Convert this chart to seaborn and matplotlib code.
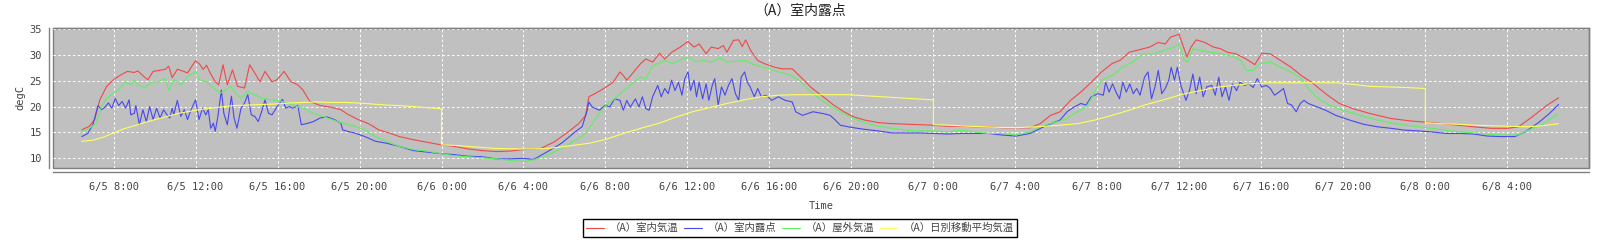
import matplotlib
matplotlib.use("Agg")
import matplotlib.pyplot as plt
import matplotlib.dates as mdates
import matplotlib.ticker as mticker
import pandas as pd
import seaborn as sns

# ---------------- data (hours after 6/5 0:00, degC) ----------------
red_h = [6.45, 6.82, 7.08, 7.33, 7.66, 8.0, 8.34, 8.67, 9.01, 9.18, 9.51, 9.68, 9.93, 10.35, 10.52,
         10.69, 10.86, 11.11, 11.36, 11.61, 12.0, 12.2, 12.37, 12.54, 12.71, 12.96, 13.13, 13.34, 13.55,
         13.8, 14.05, 14.39, 14.64, 14.89, 15.14, 15.39, 15.73, 15.98, 16.32, 16.66, 16.99, 17.24, 17.58,
         18.08, 18.59, 19.09, 19.43, 19.93, 20.44, 20.94, 21.45, 21.95, 22.62, 23.29, 23.97, 24.64, 25.31,
         25.98, 26.66, 27.33, 28.0, 28.84, 29.51, 30.18, 30.69, 31.03, 31.19, 31.53, 32.0, 32.37, 32.71,
         32.87, 33.04, 33.38, 33.71, 33.97, 34.3, 34.64, 34.89, 35.23, 35.65, 36.02, 36.32, 36.57, 36.91,
         37.16, 37.5, 37.75, 37.92, 38.25, 38.5, 38.67, 38.84, 39.09, 39.43, 39.76, 40.27, 40.61, 41.11,
         41.61, 42.03, 42.62, 43.13, 43.63, 44.13, 44.64, 45.31, 45.98, 46.66, 47.33, 48.0, 48.67, 49.34,
         50.02, 50.69, 51.36, 52.03, 52.71, 53.21, 53.71, 54.18, 54.69, 55.19, 55.7, 56.2, 56.71, 57.13,
         57.55, 58.05, 58.55, 58.97, 59.31, 59.56, 59.98, 60.15, 60.37, 60.57, 60.82, 61.24, 61.66, 62.0,
         62.34, 62.76, 63.26, 63.68, 64.02, 64.44, 64.94, 65.45, 65.95, 66.45, 67.13, 67.8, 68.47, 69.31,
         70.32, 71.33, 72.34, 73.34, 74.35, 75.19, 76.03, 76.54, 77.21, 77.88, 78.5]
red_v = [15.5, 16.2, 17.5, 21.3, 23.9, 25.2, 26.1, 26.8, 26.6, 26.9, 25.7, 25.2, 26.8, 27.1, 27.2,
         27.8, 25.6, 27.2, 26.9, 26.5, 28.9, 28.2, 27.2, 28.0, 26.5, 24.8, 24.2, 28.1, 24.2,
         27.1, 23.9, 23.6, 28.1, 26.5, 24.8, 26.8, 24.8, 25.2, 26.8, 24.8, 24.2, 23.2, 21.0,
         20.2, 19.9, 19.4, 18.5, 17.5, 16.7, 15.5, 14.9, 14.2, 13.6, 13.1, 12.6, 12.3, 11.8,
         11.5, 11.3, 11.4, 11.7, 11.9, 13.2, 15.1, 16.7, 18.3, 21.9, 22.6, 23.7, 24.7, 26.7,
         26.0, 25.1, 26.7, 28.3, 29.2, 28.6, 30.3, 29.2, 30.5, 31.5, 32.6, 31.5, 32.1, 30.2,
         31.5, 31.2, 31.8, 30.5, 32.8, 32.9, 31.6, 32.9, 30.8, 28.9, 28.3, 27.6, 27.3, 27.3,
         25.4, 23.7, 21.9, 20.3, 19.0, 18.0, 17.4, 16.9, 16.7, 16.6, 16.5, 16.4, 16.2, 16.2,
         16.1, 16.1, 15.9, 15.9, 15.9, 16.7, 18.3, 19.0, 21.2, 22.8, 24.7, 26.7, 28.3, 29.0,
         30.5, 31.0, 31.5, 32.4, 32.1, 33.4, 34.0, 32.1, 29.6, 31.5, 32.9, 32.4, 31.5, 31.2,
         30.5, 30.2, 29.2, 28.1, 30.3, 30.2, 28.9, 27.6, 26.0, 24.7, 22.5, 20.6, 19.6, 18.65,
         17.7, 17.2, 16.9, 16.5, 16.1, 15.8, 15.8, 16.1, 18.0, 20.1, 21.7]

blue_h = [6.45, 6.74, 6.99, 7.24, 7.41, 7.58, 7.75, 7.92, 8.08, 8.25, 8.42, 8.59, 8.76, 8.84, 9.01,
          9.09, 9.26, 9.43, 9.6, 9.76, 9.93, 10.1, 10.27, 10.44, 10.61, 10.74, 10.86, 10.94, 11.11,
          11.28, 11.45, 11.61, 11.78, 12.0, 12.17, 12.34, 12.5, 12.62, 12.74, 12.87, 12.96, 13.09,
          13.26, 13.38, 13.55, 13.75, 13.88, 14.02, 14.22, 14.39, 14.55, 14.72, 14.89, 15.06, 15.23,
          15.39, 15.56, 15.73, 15.98, 16.24, 16.4, 16.57, 16.74, 16.99, 17.16, 17.41, 17.75, 18.08,
          18.42, 18.76, 19.09, 19.18, 19.43, 19.76, 20.27, 20.77, 21.28, 21.95, 22.62, 23.29, 23.97,
          24.64, 25.31, 25.98, 26.66, 27.33, 28.0, 28.5, 29.18, 29.85, 30.52, 30.86, 31.11, 31.19,
          31.36, 31.7, 32.0, 32.2, 32.45, 32.71, 32.87, 33.04, 33.21, 33.46, 33.63, 33.8, 33.97,
          34.13, 34.3, 34.55, 34.72, 34.89, 35.06, 35.23, 35.39, 35.56, 35.73, 35.87, 36.03, 36.15,
          36.32, 36.44, 36.57, 36.74, 36.91, 37.04, 37.21, 37.33, 37.5, 37.66, 37.83, 38.0, 38.17,
          38.34, 38.5, 38.62, 38.79, 38.92, 39.06, 39.26, 39.43, 39.6, 39.85, 40.1, 40.44, 40.77,
          41.11, 41.28, 41.61, 42.12, 42.62, 42.96, 43.21, 43.46, 43.97, 44.64, 45.31, 45.98, 46.66,
          47.33, 48.0, 48.67, 49.34, 50.02, 50.69, 51.36, 52.03, 52.71, 53.38, 54.18, 54.52, 54.86,
          55.19, 55.45, 55.7, 56.03, 56.29, 56.4, 56.57, 56.74, 56.91, 57.08, 57.24, 57.41, 57.58,
          57.75, 57.92, 58.08, 58.3, 58.47, 58.64, 58.81, 58.97, 59.14, 59.31, 59.48, 59.6, 59.76,
          59.9, 60.07, 60.32, 60.49, 60.66, 60.82, 60.99, 61.16, 61.33, 61.58, 61.75, 61.92, 62.08,
          62.25, 62.42, 62.59, 62.79, 62.96, 63.18, 63.39, 63.6, 63.8, 64.02, 64.24, 64.44, 64.64,
          64.86, 65.08, 65.28, 65.48, 65.7, 65.9, 66.08, 66.29, 66.62, 67.13, 67.63, 68.3, 68.97,
          69.65, 70.32, 70.99, 71.66, 72.34, 73.01, 73.68, 74.35, 75.03, 75.7, 76.37, 76.87, 77.55,
          78.05, 78.5]
blue_v = [14.2, 14.8, 16.5, 20.2, 19.4, 19.9, 20.7, 19.7, 21.6, 20.2, 21.0, 19.7, 21.3, 18.4, 18.7,
          20.2, 16.5, 19.4, 17.1, 20.0, 17.5, 19.7, 17.8, 19.4, 18.4, 17.8, 19.7, 18.4, 21.2,
          18.1, 19.4, 17.5, 19.4, 21.3, 17.5, 19.7, 18.4, 19.4, 15.8, 16.8, 15.2, 18.1,
          23.2, 18.7, 16.5, 22.0, 17.8, 15.8, 19.7, 20.7, 22.3, 18.4, 18.1, 17.1, 19.1,
          21.3, 18.7, 18.4, 20.0, 21.4, 19.7, 20.0, 19.7, 20.2, 16.5, 16.7, 17.1, 17.8,
          18.0, 17.5, 16.8, 15.5, 15.2, 14.9, 14.2, 13.3, 12.95, 12.3, 11.5, 11.2, 10.9,
          10.7, 10.4, 10.3, 9.9, 9.9, 10.0, 9.8, 11.3, 12.9, 15.1, 16.1, 19.3, 20.9,
          19.9, 19.3, 20.3, 19.9, 21.5, 21.2, 19.3, 21.2, 19.9, 21.5, 19.9, 21.9, 19.6,
          19.3, 21.9, 24.1, 21.9, 23.5, 22.5, 25.1, 23.1, 24.7, 22.2, 25.4, 26.7, 23.1,
          25.1, 21.9, 24.7, 21.5, 24.4, 21.2, 24.1, 25.4, 20.3, 23.8, 22.2, 24.1, 25.4,
          22.5, 21.2, 25.7, 26.7, 24.7, 23.8, 21.9, 23.5, 21.9, 22.2, 21.2, 21.9, 21.2,
          20.9, 19.0, 18.3, 19.0, 18.65, 18.3, 17.4, 16.4, 16.0, 15.6, 15.3, 14.9, 14.9,
          14.9, 14.8, 14.7, 14.8, 14.8, 14.8, 14.5, 14.3, 14.8, 16.1, 17.4, 19.0, 19.9,
          20.6, 20.3, 21.9, 22.5, 22.2, 24.7, 22.8, 24.4, 22.8, 21.5, 24.7, 22.8, 24.4,
          22.5, 23.5, 22.2, 25.7, 26.7, 21.5, 23.8, 27.0, 22.5, 23.5, 25.1, 27.6, 25.1,
          27.6, 24.1, 21.2, 23.1, 26.3, 22.5, 25.7, 21.9, 23.8, 24.1, 22.2, 25.7, 21.9,
          23.8, 21.2, 24.4, 23.1, 24.7, 24.1, 24.4, 23.7, 25.4, 23.8, 24.1, 23.5, 22.2,
          22.8, 23.5, 20.6, 20.3, 19.0, 20.6, 21.2, 20.6, 20.1, 19.3, 18.3, 17.4, 16.6,
          16.1, 15.8, 15.45, 15.3, 15.1, 14.8, 14.8, 14.7, 14.3, 14.2, 14.2, 15.1, 17.0,
          18.65, 20.4]

green_h = [6.45, 6.82, 7.16, 7.41, 7.66, 8.0, 8.34, 8.59, 8.84, 9.01, 9.18, 9.51, 9.85, 10.18, 10.52,
           10.69, 10.94, 11.28, 11.61, 12.0, 12.2, 12.54, 12.87, 13.21, 13.46, 13.71, 13.97, 14.22,
           14.55, 14.89, 15.23, 15.73, 16.24, 16.74, 17.24, 17.75, 18.42, 19.09, 19.76, 20.27, 20.77,
           21.28, 21.95, 22.62, 23.29, 23.97, 24.64, 25.31, 25.98, 26.66, 27.33, 28.0, 28.5, 29.18,
           29.85, 30.52, 30.94, 31.36, 31.7, 32.03, 32.45, 32.71, 33.04, 33.38, 33.71, 33.97, 34.3,
           34.55, 34.89, 35.31, 35.73, 36.07, 36.4, 36.74, 37.16, 37.58, 37.92, 38.42, 38.84, 39.26,
           39.76, 40.27, 40.94, 41.45, 41.95, 42.45, 42.96, 43.46, 43.97, 44.64, 45.31, 45.98, 46.66,
           47.33, 48.0, 48.67, 49.34, 50.02, 50.69, 51.36, 52.03, 52.71, 53.38, 54.18, 54.52, 54.86,
           55.19, 55.53, 55.87, 56.2, 56.71, 57.21, 57.71, 58.22, 58.72, 59.23, 59.73, 59.98, 60.24,
           60.4, 60.66, 61.08, 61.58, 62.08, 62.59, 63.01, 63.26, 63.6, 63.93, 64.44, 64.94, 65.45,
           65.95, 66.29, 66.79, 67.29, 67.97, 68.81, 69.65, 70.66, 71.66, 72.67, 73.68, 74.69, 75.7,
           76.54, 77.04, 77.71, 78.5]
green_v = [15.2, 15.8, 16.8, 20.0, 21.6, 22.6, 23.6, 24.8, 24.2, 25.2, 24.2, 23.6, 24.7, 24.8, 25.5,
           23.2, 25.2, 24.2, 25.8, 26.8, 25.2, 24.8, 23.6, 22.6, 23.2, 23.9, 22.6, 21.6,
           22.9, 22.3, 21.6, 21.3, 21.0, 20.3, 19.7, 18.7, 17.8, 16.9, 16.2, 15.5, 14.2,
           13.3, 12.3, 11.7, 11.4, 10.9, 10.5, 10.3, 10.1, 9.9, 9.6, 9.4, 9.7, 10.6,
           11.9, 13.5, 14.5, 16.7, 18.7, 20.3, 21.5, 22.5, 23.5, 24.7, 25.7, 25.4, 27.9,
           28.3, 28.9, 28.3, 29.2, 29.55, 28.6, 28.9, 28.6, 29.4, 28.6, 28.8, 28.9, 28.1,
           27.6, 26.9, 26.2, 25.1, 23.1, 21.5, 20.1, 19.0, 17.9, 16.9, 16.2, 15.8, 15.45,
           15.3, 15.3, 15.1, 15.45, 15.1, 14.8, 14.8, 14.5, 15.1, 16.4, 17.2, 17.7, 18.65,
           19.3, 20.3, 22.8, 25.1, 26.0, 27.6, 28.6, 30.2, 30.2, 30.8, 31.5, 32.1, 28.9,
           28.6, 31.2, 30.8, 30.5, 30.2, 29.7, 28.9, 27.0, 27.0, 28.3, 28.6, 27.6, 26.7,
           25.4, 23.5, 21.5, 20.3, 19.3, 18.3, 17.4, 16.6, 16.1, 15.6, 15.1, 14.8, 14.5,
           14.5, 15.45, 16.6, 18.65]

yellow_h = [6.45, 6.99, 7.5, 8.0, 8.5, 9.18, 9.85, 10.52, 11.19, 11.87, 12.54, 13.21, 13.88, 14.55,
            15.23, 15.9, 16.57, 17.24, 17.92, 18.59, 19.26, 19.93, 20.61, 21.28, 21.95, 22.62, 23.29,
            23.93, 24.0, 24.0, 24.64, 25.31, 25.98, 26.66, 27.33, 28.0, 29.18, 29.85, 31.19, 32.0,
            32.87, 33.71, 34.55, 35.39, 36.24, 37.08, 37.92, 38.76, 39.6, 40.44, 41.28, 42.12, 42.96,
            43.8, 44.64, 45.48, 46.32, 47.16, 47.97, 48.0, 48.0, 48.84, 49.68, 50.52, 51.36, 52.2,
            53.04, 54.18, 55.03, 55.87, 56.71, 57.55, 58.39, 59.23, 60.07, 60.91, 61.75, 62.59,
            63.43, 64.27, 65.95, 67.63, 68.47, 69.31, 70.15, 70.99, 71.97, 72.0, 72.0, 72.67, 73.51,
            74.35, 75.19, 76.03, 77.04, 77.71, 78.5]
yellow_v = [13.3, 13.5, 14.1, 14.9, 15.7, 16.5, 17.3, 18.0, 18.7, 19.2, 19.6, 19.9, 20.2, 20.3,
            20.4, 20.5, 20.7, 20.8, 20.9, 20.8, 20.8, 20.7, 20.5, 20.3, 20.2, 20.0, 19.8,
            19.6, 19.5, 12.6, 12.5, 12.3, 12.1, 11.9, 11.85, 11.8, 11.9, 12.2, 12.9, 13.65,
            14.8, 15.8, 16.7, 17.9, 19.0, 19.8, 20.6, 21.3, 21.9, 22.2, 22.3, 22.3, 22.3,
            22.3, 22.1, 21.9, 21.7, 21.5, 21.3, 21.3, 16.5, 16.4, 16.2, 16.1, 15.95, 15.95,
            16.1, 16.4, 16.7, 17.4, 18.3, 19.3, 20.4, 21.3, 22.3, 23.0, 23.7, 24.1,
            24.4, 24.6, 24.6, 24.6, 24.3, 23.9, 23.8, 23.7, 23.5, 23.5, 16.9, 16.7, 16.6,
            16.4, 16.3, 16.2, 16.1, 16.3, 16.7]

series_names = ["（A）室内気温", "（A）室内露点", "（A）屋外気温", "（A）日別移動平均気温"]
series_colors = ["#f04848", "#4848f0", "#60f060", "#ffff60"]
y_ticks = [10, 15, 20, 25, 30, 35]
title_text = "（A）室内露点"
x_label = "Time"
y_label = "degC"

# ---------------- build frames ----------------
base = pd.Timestamp("2023-06-05 00:00")
def frame(h, v, name):
    return pd.DataFrame({"time": base + pd.to_timedelta(h, unit="h"), "value": v, "series": name})

frames = [frame(red_h, red_v, series_names[0]),
          frame(blue_h, blue_v, series_names[1]),
          frame(green_h, green_v, series_names[2]),
          frame(yellow_h, yellow_v, series_names[3])]

# ---------------- figure ----------------
sns.set_theme(style="white")
plt.rcParams["font.family"] = ["DejaVu Sans Mono", "Noto Sans CJK JP"]
cjk = ["Noto Sans CJK JP", "DejaVu Sans"]

fig = plt.figure(figsize=(16, 2.4), dpi=100)
ax = fig.add_axes([53.3 / 1600, 1 - 168.3 / 240, (1588.7 - 53.3) / 1600, (168.3 - 27.7) / 240])
ax.set_facecolor("#c0c0c0")

for df, col in zip(frames, series_colors):
    sns.lineplot(data=df, x="time", y="value", ax=ax, color=col, linewidth=0.8,
                 estimator=None, sort=False, label=df["series"].iloc[0])

ax.set_xlim(base + pd.Timedelta(hours=5.06), base + pd.Timedelta(hours=79.97))
ax.set_ylim(8.07, 35.25)
ax.set_yticks(y_ticks)
ax.xaxis.set_major_locator(mdates.HourLocator(byhour=[0, 4, 8, 12, 16, 20]))
def fmt(x, pos=None):
    d = mdates.num2date(x)
    return f"{d.month}/{d.day} {d.hour}:{d.minute:02d}"
ax.xaxis.set_major_formatter(mticker.FuncFormatter(fmt))

ax.grid(True, color="white", linestyle=(0, (2.5, 2.5)), linewidth=0.7)
ax.set_axisbelow(True)

for s in ["top", "right"]:
    ax.spines[s].set_color("#808080")
    ax.spines[s].set_linewidth(1.0)
for s in ["left", "bottom"]:
    ax.spines[s].set_position(("outward", 3))
    ax.spines[s].set_color("#808080")
    ax.spines[s].set_linewidth(1.0)
ax.patch.set_edgecolor("#808080")
ax.patch.set_linewidth(1.0)

ax.tick_params(axis="both", direction="inout", length=4, width=0.8, color="#808080",
               labelsize=7.5, labelcolor="#444444")
ax.tick_params(axis="x", pad=5)
ax.tick_params(axis="y", pad=3)

ax.set_xlabel(x_label, fontsize=7.5, color="#444444", labelpad=6)
ax.set_ylabel(y_label, fontsize=7.5, color="#444444", labelpad=3)

fig.text(0.5, 1 - 11 / 240, title_text, ha="center", va="center", fontsize=10,
         color="#222222", family=cjk)

handles, labels = ax.get_legend_handles_labels()
ax.get_legend().remove()
leg = fig.legend(handles, labels, loc="center", bbox_to_anchor=(0.5, 1 - 228 / 240), ncol=4,
                 frameon=True, fancybox=False, shadow=False, framealpha=1, edgecolor="black",
                 prop={"family": cjk, "size": 7.5}, handlelength=1.7, handletextpad=0.6,
                 columnspacing=0.5, borderpad=0.35, borderaxespad=0)
leg.get_frame().set_linewidth(1.0)
for t in leg.get_texts():
    t.set_color("#444444")

fig.savefig("out.png", dpi=100)
